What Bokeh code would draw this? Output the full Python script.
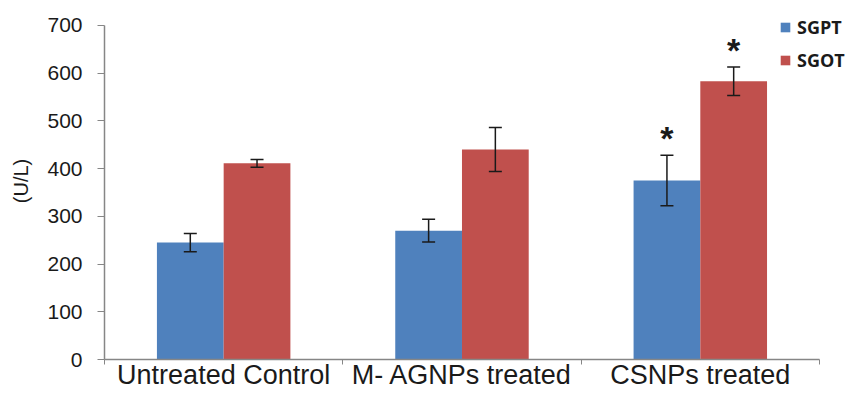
from bokeh.plotting import figure
from bokeh.models import ColumnDataSource, FixedTicker, Whisker, TeeHead, Legend, LegendItem, Range1d
from bokeh.core.properties import value
from bokeh.embed import file_html
from bokeh.resources import INLINE

groups = ["Untreated Control", "M- AGNPs treated", "CSNPs treated"]
sgpt = [245, 270, 375]
sgpt_err = [19, 24, 53]
sgot = [411, 440, 583]
sgot_err = [8, 46, 30]
sgpt_sig = ["", "", "*"]
sgot_sig = ["", "", "*"]
y_ticks = [0, 100, 200, 300, 400, 500, 600, 700]
series_names = ["SGPT", "SGOT"]
colors = ["#4F81BD", "#C0504D"]

BAR_W = 0.28
n = len(groups)
centers = [i + 0.5 for i in range(n)]

p = figure(width=856, height=394, output_backend="svg", toolbar_location=None,
           x_range=Range1d(0, 3.147), y_range=Range1d(0, 748),
           min_border_left=104, min_border_right=2, min_border_top=2, min_border_bottom=35)
p.outline_line_color = None
p.xgrid.visible = False
p.ygrid.visible = False
p.background_fill_color = "white"
p.border_fill_color = "white"

renderers = []
for vals, errs, sig, col, off in [(sgpt, sgpt_err, sgpt_sig, colors[0], -BAR_W / 2),
                                  (sgot, sgot_err, sgot_sig, colors[1], BAR_W / 2)]:
    src = ColumnDataSource(dict(
        x=[c + off for c in centers], top=vals,
        upper=[v + e for v, e in zip(vals, errs)],
        lower=[v - e for v, e in zip(vals, errs)],
        sig=sig))
    r = p.vbar(x="x", top="top", width=BAR_W, source=src, fill_color=col, line_color=None)
    renderers.append(r)
    w = Whisker(base="x", upper="upper", lower="lower", source=src, dimension="height",
                line_color="#1a1a1a", line_width=1.5, level="overlay",
                upper_head=TeeHead(size=13, line_color="#1a1a1a", line_width=1.5),
                lower_head=TeeHead(size=13, line_color="#1a1a1a", line_width=1.5))
    p.add_layout(w)
    p.text(x="x", y="upper", text="sig", source=src, text_align="center",
           text_baseline="alphabetic", y_offset=-17, text_font=value("Liberation Sans"),
           text_font_size="34px", text_font_style="bold", text_color="#1a1a1a")

# x axis
xa = p.xaxis[0]
xa.bounds = (0, n)
xa.ticker = FixedTicker(ticks=centers, minor_ticks=list(range(n + 1)))
xa.major_label_overrides = {c: g for c, g in zip(centers, groups)}
xa.major_tick_out = 0
xa.major_tick_in = 0
xa.minor_tick_out = 5
xa.minor_tick_in = 0
xa.minor_tick_line_color = "#868686"
xa.axis_line_color = "#868686"
xa.axis_line_width = 1.5
xa.major_label_text_font = "Liberation Sans"
xa.major_label_text_font_size = "27px"
xa.major_label_text_color = "#1a1a1a"
xa.major_label_standoff = -5

# y axis
ya = p.yaxis[0]
ya.bounds = (0, 700)
ya.ticker = FixedTicker(ticks=y_ticks)
ya.minor_tick_line_color = None
ya.major_tick_out = 7
ya.major_tick_in = 0
ya.major_tick_line_color = "#868686"
ya.axis_line_color = "#868686"
ya.axis_line_width = 1.5
ya.major_label_text_font = "Liberation Sans"
ya.major_label_text_font_size = "21px"
ya.major_label_text_color = "#1a1a1a"
ya.major_label_standoff = 15
ya.axis_label = "(U/L)"
ya.axis_label_text_font = "Liberation Sans"
ya.axis_label_text_font_style = "normal"
ya.axis_label_text_font_size = "20px"
ya.axis_label_text_color = "#1a1a1a"
ya.axis_label_standoff = 12

legend = Legend(items=[LegendItem(label=s, renderers=[r]) for s, r in zip(series_names, renderers)],
                location=(675, 287), padding=0, margin=0, spacing=9,
                glyph_width=12, glyph_height=12, label_standoff=6,
                label_text_font="Open Sans", label_text_font_style="bold",
                label_text_font_size="18px", label_text_color="#1a1a1a",
                border_line_color=None, background_fill_alpha=0)
p.add_layout(legend, "center")

open("out.html", "w").write(file_html(p, INLINE))
